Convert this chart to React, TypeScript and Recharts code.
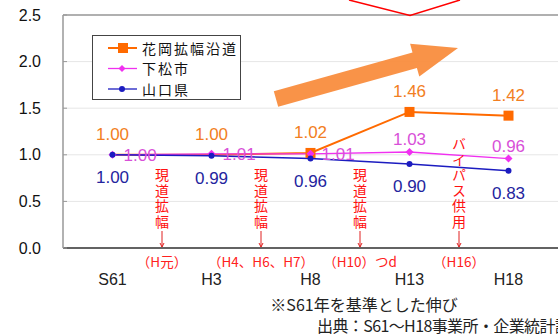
import React from 'react';
import {
  LineChart,
  Line,
  XAxis,
  YAxis,
  CartesianGrid,
  LabelList,
  ReferenceDot,
  ReferenceLine,
} from 'recharts';

const YEARS = ['S61', 'H3', 'H8', 'H13', 'H18'];
const HANAOKA = [1.0, 1.0, 1.02, 1.46, 1.42];
const KUDAMATSU = [1.0, 1.01, 1.01, 1.03, 0.96];
const YAMAGUCHI = [1.0, 0.99, 0.96, 0.9, 0.83];
const Y_TICKS = [0, 0.5, 1, 1.5, 2, 2.5];
const SERIES_NAMES = ['花岡拡幅沿道', '下松市', '山口県'];
const EVENT_POS = [0.5, 1.5, 2.5, 3.5];
const EVENT_TEXT = ['現道拡幅', '現道拡幅', '現道拡幅', 'バイパス供用'];
const EVENT_WHEN = ['（H元）', '（H4、H6、H7）', '（H10）つd', '（H16）'];

const ORANGE = '#FF6A00';
const MAGENTA = '#F030F0';
const BLUE = '#1C1CC0';
const JP = '"Noto Sans CJK JP", sans-serif';
const NUM = '"Liberation Sans", Arial, sans-serif';

const chartData = YEARS.map((year, i) => ({
  x: i,
  year,
  hanaoka: HANAOKA[i],
  kudamatsu: KUDAMATSU[i],
  yamaguchi: YAMAGUCHI[i],
}));

const fmt = (v: number) => v.toFixed(2);

// orange squares only show from H8 on (the others sit under the blue dots)
const SquareDot = (props: any) => {
  const { cx, cy, index } = props;
  if (index < 2 || cx == null) return <g key={`sq-${index}`} />;
  return <rect key={`sq-${index}`} x={cx - 5} y={cy - 5} width={10} height={10} fill={ORANGE} />;
};

const DiamondDot = (props: any) => {
  const { cx, cy, index } = props;
  return (
    <path
      key={`dm-${index}`}
      d={`M${cx},${cy - 4}L${cx + 4},${cy}L${cx},${cy + 4}L${cx - 4},${cy}Z`}
      fill={MAGENTA}
    />
  );
};

const orangeLabel = (props: any) => {
  const { x, y, value, index } = props;
  return (
    <text key={`ol-${index}`} x={x} y={y - 15} textAnchor="middle" fontSize={17} fontFamily={NUM} fill="#F27E22">
      {fmt(value)}
    </text>
  );
};

const magentaLabel = (props: any) => {
  const { x, y, value, index } = props;
  const side = index < 3;
  return (
    <text
      key={`ml-${index}`}
      x={side ? x + 11 : x}
      y={side ? y + 6 : y - 7}
      textAnchor={side ? 'start' : 'middle'}
      fontSize={17}
      fontFamily={NUM}
      fill="#D850D8"
    >
      {fmt(value)}
    </text>
  );
};

const blueLabel = (props: any) => {
  const { x, y, value, index } = props;
  return (
    <text key={`bl-${index}`} x={x} y={y + 28} textAnchor="middle" fontSize={17} fontFamily={NUM} fill="#24249E">
      {fmt(value)}
    </text>
  );
};

const eventShape = (i: number) => (props: any) => {
  const { cx, cy } = props;
  return (
    <g>
      <text
        x={cx}
        y={cy - 18}
        textAnchor="end"
        fontSize={14}
        letterSpacing={1.5}
        fontFamily={JP}
        fill="#FF1010"
        style={{ writingMode: 'vertical-rl' }}
      >
        {EVENT_TEXT[i]}
      </text>
      <line x1={cx} y1={cy - 17} x2={cx} y2={cy - 1} stroke="#E02020" strokeWidth={1} />
      <path d={`M${cx - 2},${cy - 5}L${cx},${cy - 1}L${cx + 2},${cy - 5}`} fill="none" stroke="#E02020" strokeWidth={1} />
      <text x={cx} y={cy + 19} textAnchor="middle" fontSize={13.5} fontFamily={JP} fill="#FF2020">
        {EVENT_WHEN[i]}
      </text>
    </g>
  );
};

function Overlay() {
  const legendColors = [ORANGE, MAGENTA, BLUE];
  return (
    <svg width={558} height={334} style={{ position: 'absolute', left: 0, top: 0, pointerEvents: 'none' }}>
      {/* red V at the top */}
      <polyline points="349,0 410,15.5 460,0" fill="none" stroke="#FF0000" strokeWidth={1.5} />
      {/* big orange growth arrow */}
      <polygon
        points="273.8,91.3 412.5,52.5 410.1,43.8 458,48 419.3,76.6 416.9,67.9 278.2,106.7"
        fill="#F98A38"
        opacity={0.92}
      />
      {/* legend */}
      <rect x={92.5} y={35.5} width={148} height={64} fill="#fff" stroke="#444" strokeWidth={1} />
      {SERIES_NAMES.map((name, i) => {
        const cy = 48 + i * 20.5;
        return (
          <g key={name}>
            <line x1={108} y1={cy} x2={137} y2={cy} stroke={legendColors[i]} strokeWidth={i === 0 ? 2 : 1.3} />
            {i === 0 && <rect x={118} y={cy - 5} width={10} height={10} fill={ORANGE} />}
            {i === 1 && <path d={`M122,${cy - 3.5}L125.5,${cy}L122,${cy + 3.5}L118.5,${cy}Z`} fill={MAGENTA} />}
            {i === 2 && <circle cx={122} cy={cy} r={3} fill={BLUE} />}
            <text x={142} y={cy + 5.5} fontSize={14} letterSpacing={2} fontFamily={JP} fill="#111">
              {name}
            </text>
          </g>
        );
      })}
      {/* notes */}
      <text x={364} y={311} textAnchor="middle" fontSize={16} fontFamily={JP} fill="#222">
        ※S61年を基準とした伸び
      </text>
      <text x={317} y={332} fontSize={16} fontFamily={JP} fill="#222" letterSpacing={-0.6}>
        出典：S61～H18事業所・企業統計調
      </text>
    </svg>
  );
}

export default function App() {
  return (
    <div style={{ position: 'absolute', left: 0, top: 0, width: 558, height: 334, background: '#fff' }}>
      <LineChart width={558} height={334} data={chartData} margin={{ top: 15, right: 0, left: 0, bottom: 56 }}>
        <CartesianGrid vertical={false} stroke="#E6E6E6" />
        <XAxis
          dataKey="x"
          type="number"
          domain={[-0.5, 4.5]}
          ticks={[0, 1, 2, 3, 4]}
          tickFormatter={(i: number) => YEARS[i]}
          height={30}
          tickLine={false}
          tickSize={0}
          tickMargin={26}
          axisLine={{ stroke: '#333', strokeWidth: 1.5 }}
          tick={{ fontSize: 16, fill: '#222', fontFamily: NUM }}
        />
        <YAxis
          domain={[0, 2.5]}
          ticks={Y_TICKS}
          tickFormatter={(v: number) => v.toFixed(1)}
          width={63}
          tickSize={-4}
          tickMargin={26}
          tickLine={{ stroke: '#999' }}
          axisLine={{ stroke: '#999', strokeWidth: 1.5 }}
          tick={{ fontSize: 16, fill: '#111', fontFamily: NUM }}
        />
        <ReferenceLine y={2.5} stroke="#B0B0B0" strokeWidth={2} />
        <Line
          dataKey="hanaoka"
          stroke={ORANGE}
          strokeWidth={2}
          dot={SquareDot}
          isAnimationActive={false}
        >
          <LabelList dataKey="hanaoka" content={orangeLabel} />
        </Line>
        <Line
          dataKey="kudamatsu"
          stroke={MAGENTA}
          strokeWidth={1.3}
          dot={DiamondDot}
          isAnimationActive={false}
        >
          <LabelList dataKey="kudamatsu" content={magentaLabel} />
        </Line>
        <Line
          dataKey="yamaguchi"
          stroke={BLUE}
          strokeWidth={1.5}
          dot={{ r: 3, fill: BLUE, stroke: BLUE, strokeWidth: 0 }}
          isAnimationActive={false}
        >
          <LabelList dataKey="yamaguchi" content={blueLabel} />
        </Line>
        {EVENT_POS.map((p, i) => (
          <ReferenceDot key={i} x={p} y={0} r={0} shape={eventShape(i)} />
        ))}
      </LineChart>
      <Overlay />
    </div>
  );
}
